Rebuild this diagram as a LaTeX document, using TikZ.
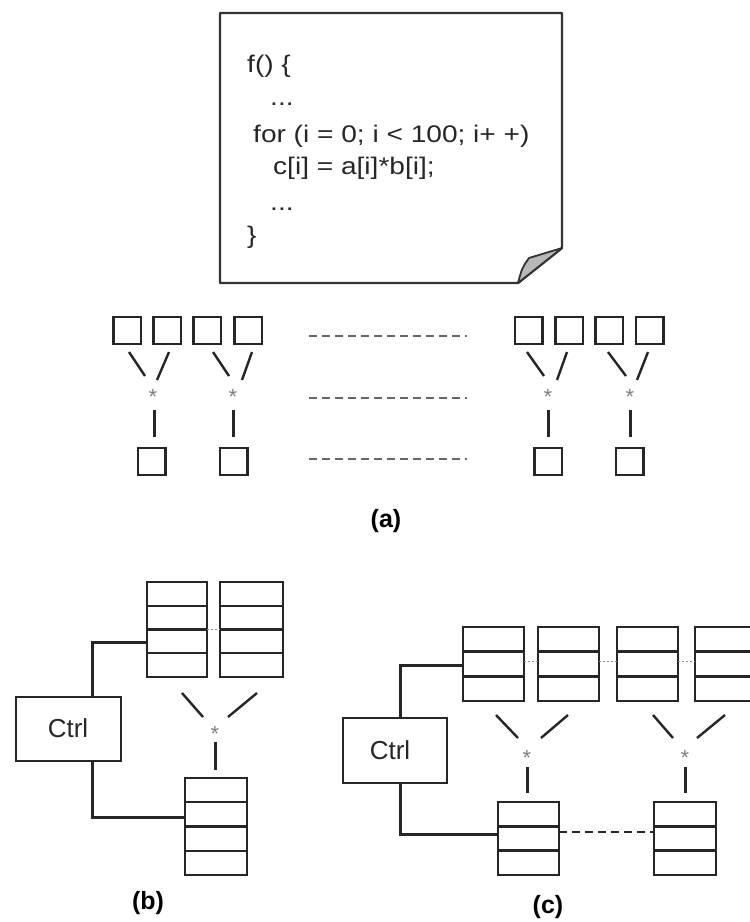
\documentclass[tikz,border=0pt]{standalone}
\usepackage{fontspec}
\setmainfont{Liberation Sans}
\newfontfamily\codefont[FakeStretch=1.17]{Liberation Sans}
\usetikzlibrary{calc}
\begin{document}
\begin{tikzpicture}[x=1pt,y=-1pt,
  ln/.style={line width=2.4pt, draw=black!85},
  sq/.style={draw=black!85, line width=2.5pt, minimum width=27.5pt, minimum height=27pt, inner sep=0pt, outer sep=0pt},
  stk/.style={draw=black!85, line width=2.4pt, inner sep=0pt, outer sep=0pt, anchor=north west},
  ast/.style={text=black!50, font=\fontsize{22}{22}\selectfont, inner sep=0pt, anchor=base},
  code/.style={font=\codefont\fontsize{24}{24}\selectfont, text=black!85, anchor=base west, inner sep=0pt},
  lab/.style={font=\bfseries\fontsize{25}{25}\selectfont, inner sep=0pt},
  ctrlbox/.style={draw=black!85, line width=2.2pt, inner sep=0pt, anchor=north west},
  ctrltext/.style={font=\fontsize{26}{26}\selectfont, text=black!85},
  gdash/.style={dash pattern=on 8pt off 5pt, line width=2pt, draw=black!60},
  bdash/.style={dash pattern=on 8pt off 5pt, line width=2.4pt, draw=black!85},
  gdot/.style={dash pattern=on 2pt off 2pt, line width=1pt, draw=black!45}
]
\useasboundingbox (0,0) rectangle (750,922);
\clip (0,0) rectangle (750,922);

% ---------- document ----------
\draw[line width=2.4pt, draw=black!80, line join=round] (220,13) -- (562,13) -- (562,248) -- (518,283) -- (220,283) -- cycle;
\filldraw[fill=black!28, draw=black!80, line width=1.8pt, line join=round] (518,283) .. controls (522,268) .. (529,258) -- (562,248) -- cycle;

\node[code] (l1) at (247,72) {f() \{};
\node[code] (l2) at (270,105) {...};
\node[code] (l3) at (253,142) {for (i = 0; i < 100; i+ +)};
\node[code] (l4) at (273,174) {c[i] = a[i]*b[i];};
\node[code] (l5) at (270,210) {...};
\node[code] (l6) at (247,243) {\}};

% ---------- (a) ----------
\foreach \n/\x in {t1/127,t2/167,t3/207,t4/248,t5/528.5,t6/569,t7/609,t8/649.5}
  \node[sq] (\n) at (\x,330.5) {};
\foreach \n/\x in {b1/151.5,b2/233.5,b3/548,b4/629.5}
  \node[sq] (\n) at (\x,461.5) {};
\foreach \n/\x in {s1/153,s2/233,s3/548,s4/630}
  \node[ast] (\n) at (\x,404.5) {*};
% diagonals and verticals
\draw[ln] (129,352) -- (145,376);  \draw[ln] (169,352) -- (157,380);  \draw[ln] (154.5,410) -- (154.5,437);
\draw[ln] (213,352) -- (229,376);  \draw[ln] (252,352) -- (242,380);  \draw[ln] (233.5,410) -- (233.5,437);
\draw[ln] (527,352) -- (544,376);  \draw[ln] (567,352) -- (557,380);  \draw[ln] (548.5,410) -- (548.5,437);
\draw[ln] (608,352) -- (626,376);  \draw[ln] (648,352) -- (637,380);  \draw[ln] (630.5,410) -- (630.5,437);
% dashed rows
\draw[gdash] (309,336) -- (467,336);
\draw[gdash] (309,398) -- (467,398);
\draw[gdash] (309,459) -- (467,459);
\node[lab] (la) at (386,521) {(a)};

% ---------- (b) ----------
\node[ctrlbox, minimum width=105pt, minimum height=64pt] (ctrlb) at (15,696) {};
\node[ctrltext] (ctrlbt) at (68,728) {Ctrl};
\node[stk, minimum width=60pt, minimum height=95pt] (bt1) at (147,582) {};
\node[stk, minimum width=63pt, minimum height=95pt] (bt2) at (220,582) {};
\node[stk, minimum width=62pt, minimum height=97pt] (bb1) at (185,778) {};
\foreach \s in {bt1,bt2,bb1}
  \foreach \k in {1,2,3}
    \draw[ln] ($(\s.north west)!\k/4!(\s.south west)$) -- ($(\s.north east)!\k/4!(\s.south east)$);
\draw[gdot] ($(bt1.north east)!0.5!(bt1.south east)$) -- ($(bt2.north west)!0.5!(bt2.south west)$);
\draw[ln] (ctrlb.north west) ++(77.5,0) |- (bt1.west |- 0,642.5) ;
\draw[ln] (ctrlb.south west) ++(77.5,0) |- (bb1.west |- 0,817.5);
\draw[ln] (182,693) -- (203,717);
\draw[ln] (257,693) -- (228,717);
\node[ast] (sb) at (215,741.5) {*};
\draw[ln] (215.5,742) -- (215.5,770);
\node[lab] (lb) at (148,903) {(b)};

% ---------- (c) ----------
\node[ctrlbox, minimum width=104pt, minimum height=65pt] (ctrlc) at (342,717) {};
\node[ctrltext] (ctrlct) at (390,750) {Ctrl};
\foreach \n/\x in {ct1/463,ct2/538,ct3/617,ct4/695}
  \node[stk, minimum width=61pt, minimum height=74pt] (\n) at (\x,627) {};
\node[stk, minimum width=61pt, minimum height=73pt] (cb1) at (498,802) {};
\node[stk, minimum width=62pt, minimum height=73pt] (cb2) at (654,802) {};
\foreach \s in {ct1,ct2,ct3,ct4,cb1,cb2}
  \foreach \k in {1,2}
    \draw[ln] ($(\s.north west)!\k/3!(\s.south west)$) -- ($(\s.north east)!\k/3!(\s.south east)$);
\draw[gdot] (ct1.east |- 0,661) -- (ct2.west |- 0,661);
\draw[gdot] (ct2.east |- 0,661) -- (ct3.west |- 0,661);
\draw[gdot] (ct3.east |- 0,661) -- (ct4.west |- 0,661);
\draw[ln] (ctrlc.north west) ++(58.5,0) |- (ct1.west |- 0,665.5);
\draw[ln] (ctrlc.south west) ++(58.5,0) |- (cb1.west |- 0,834.5);
\draw[bdash] (cb1.east |- 0,832) -- (cb2.west |- 0,832);
\draw[ln] (496,715) -- (518,738);
\draw[ln] (568,715) -- (541,738);
\node[ast] (sc1) at (527,765.5) {*};
\draw[ln] (527.5,767) -- (527.5,793);
\draw[ln] (653,715) -- (673,738);
\draw[ln] (725,715) -- (697,738);
\node[ast] (sc2) at (685,765.5) {*};
\draw[ln] (685.5,767) -- (685.5,793);
\node[lab] (lc) at (548,907) {(c)};
\end{tikzpicture}
\end{document}
